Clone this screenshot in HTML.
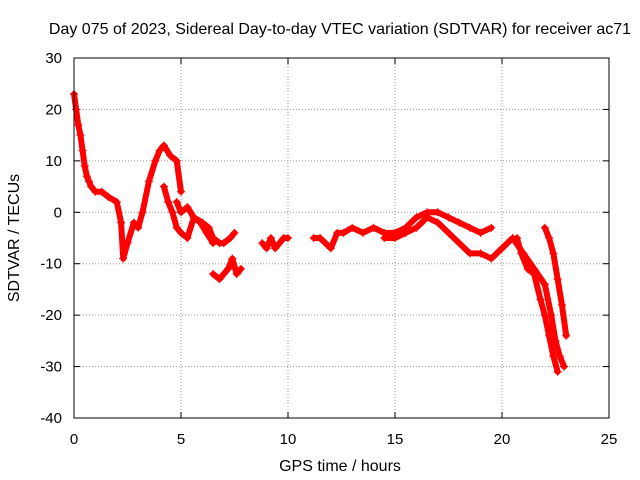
<!DOCTYPE html>
<html><head><meta charset="utf-8"><style>
body{margin:0;background:#fff}
svg{display:block;font-family:"Liberation Sans",sans-serif}
</style></head><body>
<svg id="c" width="640" height="480">
<text x="340" y="34" font-size="16" text-anchor="middle">Day 075 of 2023, Sidereal Day-to-day VTEC variation (SDTVAR) for receiver ac71</text>
<text x="340" y="471" font-size="16" text-anchor="middle">GPS time / hours</text>
<text transform="translate(19,238) rotate(-90)" font-size="16" text-anchor="middle">SDTVAR / TECUs</text>
<g id="grid"></g><g id="marks"></g>
<rect x="74" y="58" width="535" height="360" fill="none" stroke="#000"/>
</svg>
<script>
const xTicks=[0,5,10,15,20,25];
const yTicks=[30,20,10,0,-10,-20,-30,-40];
const trackA_t=[0,0.1,0.2,0.3,0.4,0.5,0.6,0.7,0.8,1.0,1.3,1.6,2.0,2.2,2.3,2.5,2.8,3.0,3.2,3.5,3.8,4.0,4.2,4.5,4.8,5.0];
const trackA_v=[23,20,17,15,12,9,7,6,5,4,4,3,2,-2,-9,-6,-2,-3,0,6,10,12,13,11,10,4];
const trackB_t=[4.2,4.4,4.6,4.8,5.0,5.3,5.6,6.0,6.3,6.5,6.8,7.0,7.3,7.5];
const trackB_v=[5,2,0,-3,-4,-5,-1,-2,-3,-5,-6,-6,-5,-4];
const trackC_t=[4.8,5.0,5.3,5.6,5.9,6.2,6.5];
const trackC_v=[2,0,1,-1,-2,-4,-6];
const trackD_t=[6.5,6.8,7.0,7.2,7.4,7.6,7.8];
const trackD_v=[-12,-13,-12,-11,-9,-12,-11];
const trackE_t=[8.8,9.0,9.2,9.4,9.6,9.8,10.0];
const trackE_v=[-6,-7,-5,-7,-6,-5,-5];
const trackF_t=[11.2,11.5,12.0,12.3,12.6,13.0,13.5,14.0,14.5,15.0,15.5,16.0,16.5,17.0,17.5,18.0,18.5,19.0,19.5];
const trackF_v=[-5,-5,-7,-4,-4,-3,-4,-3,-4,-4,-3,-1,0,0,-1,-2,-3,-4,-3];
const trackG_t=[14.5,15.0,15.5,16.0,16.5,17.0,17.5,18.0,18.5,19.0,19.5,20.0,20.5,21.0,21.5,22.0,22.3,22.5,22.7,22.9];
const trackG_v=[-5,-5,-4,-3,-1,-2,-4,-6,-8,-8,-9,-7,-5,-8,-11,-14,-20,-25,-28,-30];
const trackH_t=[20.7,20.9,21.2,21.5,21.8,22.0,22.2,22.4,22.6];
const trackH_v=[-5,-8,-11,-12,-17,-20,-24,-28,-31];
const trackI_t=[22.0,22.2,22.4,22.6,22.8,23.0];
const trackI_v=[-3,-5,-8,-13,-18,-24];
const tracks=[[trackA_t,trackA_v],[trackB_t,trackB_v],[trackC_t,trackC_v],[trackD_t,trackD_v],[trackE_t,trackE_v],[trackF_t,trackF_v],[trackG_t,trackG_v],[trackH_t,trackH_v],[trackI_t,trackI_v]];
const X=t=>74+t*(535/25);
const Y=v=>58+(30-v)*(360/70);
const NS='http://www.w3.org/2000/svg';
const grid=document.getElementById('grid'),marks=document.getElementById('marks');
function mk(tag,a,p){const e=document.createElementNS(NS,tag);for(const k in a)e.setAttribute(k,a[k]);p.appendChild(e);return e;}
xTicks.forEach(t=>{
 const x=X(t);
 if(t>0&&t<25){const l=mk('line',{x1:x,x2:x,y1:58,y2:418,stroke:'#999','stroke-dasharray':'1,2'},grid);
 
 }
 mk('line',{x1:x,x2:x,y1:418,y2:412,stroke:'#000'},grid);
 mk('line',{x1:x,x2:x,y1:58,y2:64,stroke:'#000'},grid);
 const tx=mk('text',{x:x,y:444,'font-size':15,'text-anchor':'middle'},grid);tx.textContent=t;
 
 
});
yTicks.forEach(v=>{
 const y=Y(v);
 if(v<30&&v>-40){const l=mk('line',{x1:74,x2:609,y1:y,y2:y,stroke:'#999','stroke-dasharray':'1,2'},grid);
 
 }
 mk('line',{x1:74,x2:80,y1:y,y2:y,stroke:'#000'},grid);
 mk('line',{x1:603,x2:609,y1:y,y2:y,stroke:'#000'},grid);
 const tx=mk('text',{x:62,y:y+5,'font-size':15,'text-anchor':'end'},grid);tx.textContent=v;
 
 
});
tracks.forEach(([ts,vs])=>{
 const pts=ts.map((t,i)=>X(t)+','+Y(vs[i])).join(' ');
 const pl=mk('polyline',{points:pts,fill:'none',stroke:'#f00','stroke-width':6,'stroke-linejoin':'round','stroke-linecap':'round'},marks);
 
 
 ts.forEach((t,i)=>{
  const x=X(t),y=Y(vs[i]);
  const p=mk('path',{d:`M${x-4},${y}h8M${x},${y-4}v8`,stroke:'#f00','stroke-width':1.2},marks);
  
  
 });
});
</script>
</body></html>
